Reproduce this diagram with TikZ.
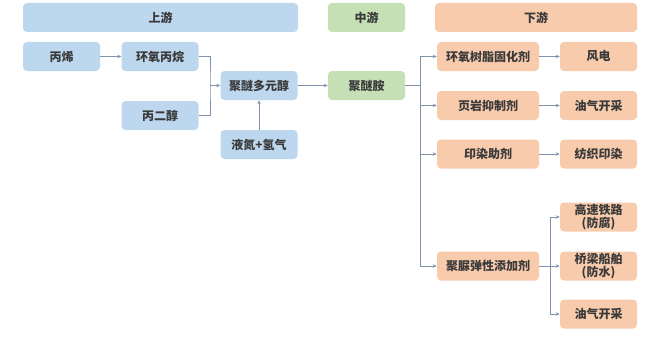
\documentclass[tikz,border=0pt]{standalone}
\usepackage{fontspec}
\newfontfamily\cjk{Noto Sans CJK SC}
\usepackage{tikz}
\usetikzlibrary{arrows.meta, positioning, calc}
\definecolor{upfill}{HTML}{BDD7EE}
\definecolor{midfill}{HTML}{C5E0B4}
\definecolor{downfill}{HTML}{F8CBAD}
\definecolor{lncol}{HTML}{7F93AD}
\definecolor{txtcol}{HTML}{3A3A3A}

\begin{document}
\begin{tikzpicture}[x=1pt, y=-1pt,
    bx/.style={rounded corners=4pt, minimum height=29pt, minimum width=77pt, inner sep=0pt,
        align=center, text=txtcol, font=\cjk\bfseries\fontsize{12}{13.5}\selectfont},
    hdr/.style={bx, minimum height=19pt},
    up/.style={bx, fill=upfill},
    mid/.style={bx, fill=midfill},
    down/.style={bx, fill=downfill},
    ln/.style={draw=lncol, line width=0.7pt},
    arr/.style={ln, -{Stealth[length=4pt, width=3.5pt]}}]
    \useasboundingbox (0,0) rectangle (660,337);
    % headers
    \node[hdr, up, minimum width=275pt] (hup) at (160.5,17.5) {上游};
    \node[hdr, mid] (hmid) at (366.5,17.5) {中游};
    \node[hdr, down, minimum width=202pt] (hdown) at (536,17.5) {下游};
    % upstream
    \node[up] (a) at (61.5,56.5) {丙烯};
    \node[up] (b) at (160,56.5) {环氧丙烷};
    \node[up] (c) at (160,115.5) {丙二醇};
    \node[up] (d) at (259,85.5) {聚醚多元醇};
    \node[up] (e) at (259,144.5) {液氮+氢气};
    % midstream
    \node[mid] (f) at (366.5,85.5) {聚醚胺};
    % downstream
    \node[down, minimum width=102pt] (g1) at (488,56.5) {环氧树脂固化剂};
    \node[down, minimum width=102pt] (g2) at (488,105.5) {页岩抑制剂};
    \node[down, minimum width=102pt] (g3) at (488,154) {印染助剂};
    \node[down, minimum width=102pt] (g4) at (488,266) {聚脲弹性添加剂};
    \node[down] (h1) at (598.5,56.5) {风电};
    \node[down] (h2) at (598.5,105.5) {油气开采};
    \node[down] (h3) at (598.5,154) {纺织印染};
    \node[down] (k1) at (598.5,217) {高速铁路\\(防腐)};
    \node[down] (k2) at (598.5,266) {桥梁船舶\\(防水)};
    \node[down] (k3) at (598.5,314) {油气开采};
    % connectors
    \coordinate (j1) at (210,85.5);
    \coordinate (j2) at (420,85.5);
    \coordinate (j3) at (550,266);
    \draw[arr] (a) -- (b);
    \draw[ln] (b.east) -| (j1) |- (c.east);
    \draw[arr] (j1) -- (d.west);
    \draw[arr] (e) -- (d);
    \draw[arr] (d) -- (f);
    \draw[ln] (f.east) -- (j2);
    \foreach \i in {1,...,4} {
        \draw[arr] (j2) |- (g\i.west);
    }
    \foreach \i in {1,2,3} {
        \draw[arr] (g\i) -- (h\i);
    }
    \draw[ln] (g4.east) -- (j3);
    \foreach \i in {1,2,3} {
        \draw[arr] (j3) |- (k\i.west);
    }
\end{tikzpicture}
\end{document}
